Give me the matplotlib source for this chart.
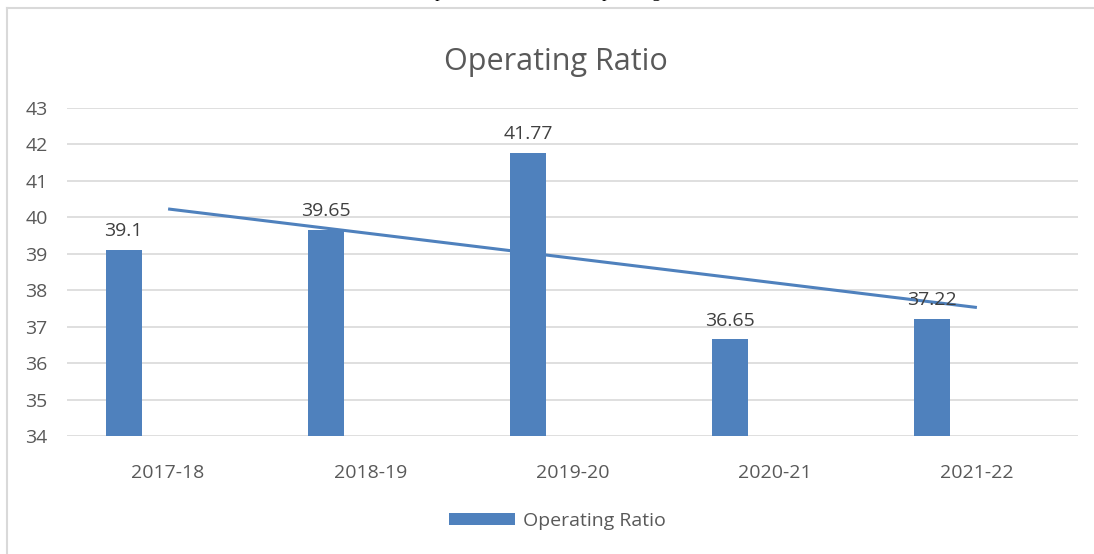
import matplotlib
matplotlib.use("Agg")
import matplotlib.pyplot as plt
import numpy as np
from matplotlib.patches import Patch
from matplotlib.lines import Line2D

categories = ["2017-18", "2018-19", "2019-20", "2020-21", "2021-22"]
values = [39.1, 39.65, 41.77, 36.65, 37.22]
value_labels = ["39.1", "39.65", "41.77", "36.65", "37.22"]
yticks = [34, 35, 36, 37, 38, 39, 40, 41, 42, 43]
series_name = "Operating Ratio"
title = "Operating Ratio"
caption = "Graph 4: Presentation of Operating Ratio"

plt.rcParams['font.family'] = ['Open Sans', 'DejaVu Sans']
BLUE = "#4f81bd"
GRAY = "#595959"
GRID = "#d9d9d9"

fig = plt.figure(figsize=(10.94, 5.54), dpi=100)
ax = fig.add_axes([67/1094, 1-436/554, (1078-67)/1094, (436-108)/554])

x = np.arange(len(categories))
offset = -0.22
ax.bar(x + offset, [v - 34 for v in values], bottom=34, width=0.178, color=BLUE, zorder=2)
for xi, v, lab in zip(x, values, value_labels):
    ax.annotate(lab, (xi + offset, v), xytext=(0, 7), textcoords="offset points",
                ha="center", va="bottom", fontsize=14, color="#404040", zorder=4)

coef = np.polyfit(x, values, 1)
xt = np.array([x[0], x[-1]])
ax.plot(xt, np.polyval(coef, xt), color=BLUE, lw=2.2, zorder=3, solid_capstyle='butt')

ax.set_xlim(-0.5, len(categories) - 0.5)
ax.set_ylim(34, 43)
ax.set_yticks(yticks)
ax.set_xticks(x)
ax.set_xticklabels(categories)
ax.tick_params(axis='both', length=0, labelsize=14, labelcolor=GRAY)
ax.tick_params(axis='y', pad=14)
ax.tick_params(axis='x', pad=20)
ax.grid(axis='y', color=GRID, lw=1.2, zorder=0)
for s in ax.spines.values():
    s.set_visible(False)
ax.set_facecolor("none")

fig.text(556/1094, 1-62/554, title, ha="center", va="center", fontsize=22, color=GRAY)

handle = Patch(facecolor=BLUE, edgecolor="none")
fig.legend([handle], [series_name], loc="center", bbox_to_anchor=(557/1094, 1-521/554),
           frameon=False, fontsize=14, labelcolor=GRAY, handlelength=3.4, handleheight=0.6,
           handletextpad=0.4)

# outer chart border
fig.add_artist(Line2D([7/1094, 1], [1-8/554, 1-8/554], color=GRID, lw=1.5, transform=fig.transFigure))
fig.add_artist(Line2D([7/1094, 7/1094], [0, 1-8/554], color=GRID, lw=1.5, transform=fig.transFigure))

# caption, cut off at the top edge as in the reference
fig.text(556/1094, 1+3/554, caption, ha="center", va="baseline", fontsize=13,
         color="black", family=["Liberation Serif"])

fig.savefig("out.png", dpi=100, facecolor="white")
